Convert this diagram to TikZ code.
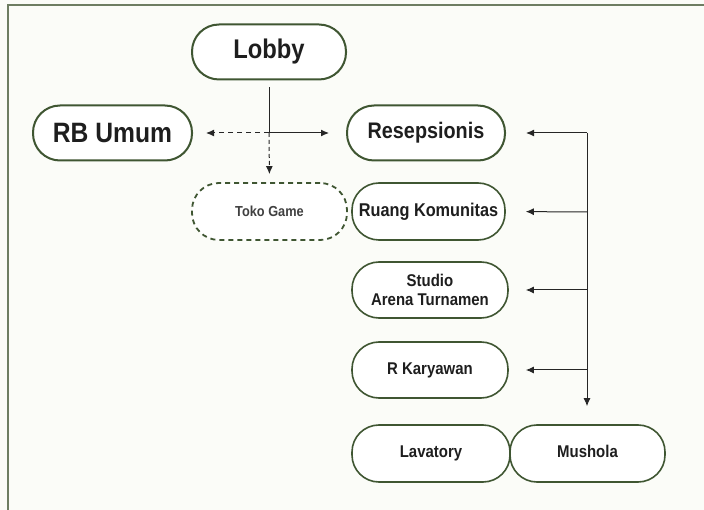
\documentclass[tikz,border=0pt]{standalone}
\usepackage{fontspec}
\setmainfont{Liberation Sans}[FakeStretch=0.88]
\usetikzlibrary{arrows.meta}
\definecolor{boxgreen}{HTML}{3F5632}
\definecolor{framec}{HTML}{6E7D62}
\definecolor{bgc}{HTML}{FBFCF8}
\definecolor{txt}{HTML}{1E1E1E}
\tikzset{
  room/.style={draw=boxgreen, line width=1.6pt, rounded corners=27pt, fill=white,
    minimum height=55pt, align=center, inner sep=2pt, text=txt},
  bigroom/.style={room, line width=2pt},
  dashroom/.style={room, dash pattern=on 5pt off 4pt, line width=1.8pt},
  conn/.style={line width=1pt, draw=black!85},
  tip/.style={-{Latex[length=8pt,width=7pt]}},
}
\begin{document}
\begin{tikzpicture}[x=1pt,y=-1pt]
\fill[bgc] (0,0) rectangle (704,510);
\useasboundingbox (0,0) rectangle (704,510);
\draw[framec, line width=1.5pt] (8,510) -- (8,5) -- (704,5);

\node[bigroom, minimum width=154pt, font=\bfseries\fontsize{27}{29}\selectfont] (lobby) at (269,52) {Lobby};
\node[bigroom, minimum width=159pt, font=\bfseries\fontsize{28}{30}\selectfont] (rb) at (112.5,133) {RB Umum};
\node[bigroom, minimum width=158pt, font=\bfseries\fontsize{22.5}{24}\selectfont] (res) at (426,133) {Resepsionis};
\node[dashroom, minimum width=155pt, minimum height=57pt, font=\bfseries\fontsize{14.5}{16}\selectfont, text=txt!85] (toko) at (269.5,211.5) {Toko Game};
\node[room, minimum width=153pt, minimum height=57pt, font=\bfseries\fontsize{18.5}{20}\selectfont] (rk) at (428.5,211.5) {Ruang Komunitas};
\node[room, minimum width=156pt, minimum height=56pt, font=\bfseries\fontsize{17}{19}\selectfont] (studio) at (430,290) {Studio\\Arena Turnamen};
\node[room, minimum width=156pt, minimum height=56pt, font=\bfseries\fontsize{17}{19}\selectfont, text height=12pt, text depth=4pt] (kary) at (430,370) {R Karyawan};
\node[room, minimum width=158pt, minimum height=57pt, font=\bfseries\fontsize{17}{19}\selectfont, text height=12pt, text depth=4pt] (lav) at (431,453.5) {Lavatory};
\node[room, minimum width=155pt, minimum height=57pt, font=\bfseries\fontsize{17}{19}\selectfont, text height=12pt, text depth=4pt] (mus) at (587.5,453.5) {Mushola};

% left junction
\coordinate (j) at (269,133);
\draw[conn] ([yshift=-7pt]lobby.south) -- (j);
\draw[conn, tip, dash pattern=on 4pt off 3pt, shorten >=8pt] (j) -- (toko.north);
\draw[conn, tip, dash pattern=on 5pt off 4pt, shorten >=13pt] (j) -- (rb.east);
\draw[conn, tip, shorten >=17pt] (j) -- (res.west);

% right bus
\coordinate (b1) at (587,133);
\coordinate (b2) at (587,212);
\coordinate (b3) at (587,290);
\coordinate (b4) at (587,370);
\draw[conn, tip, shorten >=18pt] (b1) -- (b1 |- mus.north);
\draw[conn, tip, shorten >=20pt] (b1) -- (res.east);
\draw[conn, tip, shorten >=20pt] (b2) -- (rk.east);
\draw[conn, tip, shorten >=17pt] (b3) -- (studio.east);
\draw[conn, tip, shorten >=17pt] (b4) -- (kary.east);
\end{tikzpicture}
\end{document}
